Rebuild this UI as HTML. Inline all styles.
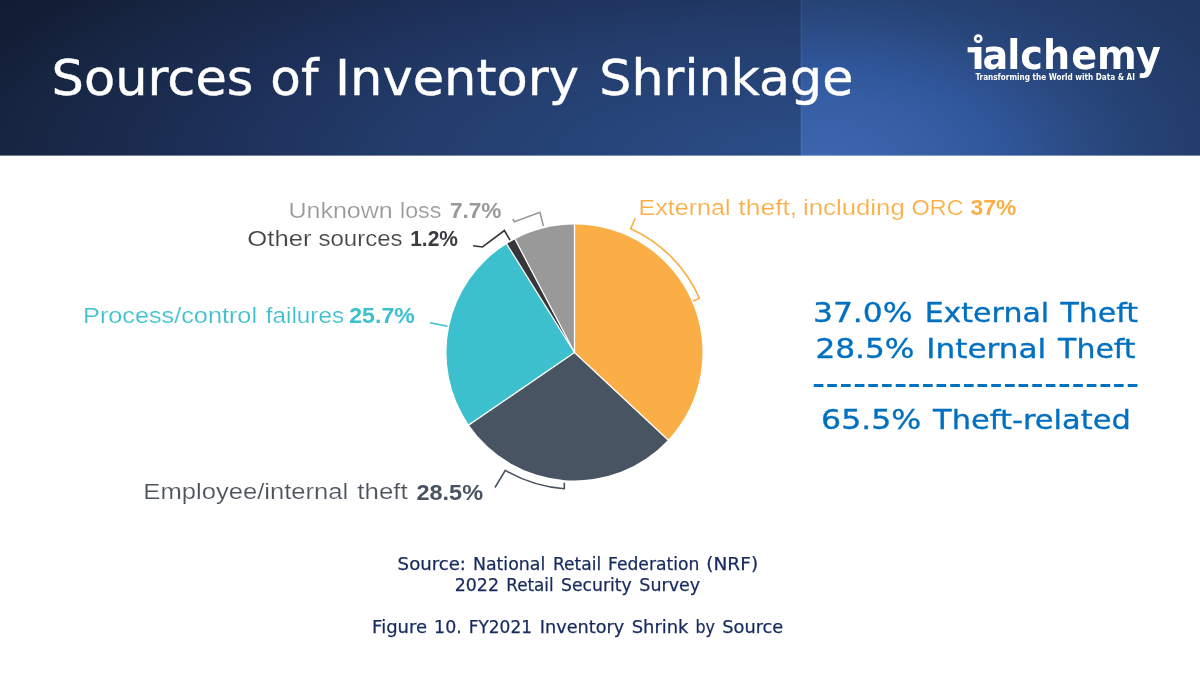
<!DOCTYPE html>
<html lang="en"><head><meta charset="utf-8"><title>Sources of Inventory Shrinkage</title>
<style>
html,body{margin:0;padding:0;background:#fff}
body{width:1200px;height:675px;overflow:hidden;position:relative}
svg{position:absolute;left:0;top:0;display:block}
.v{font-family:"DejaVu Sans","Liberation Sans",sans-serif}
.g{font-family:"Liberation Sans","DejaVu Sans",sans-serif}
</style></head><body>
<svg width="1200" height="675" viewBox="0 0 1200 675">
<defs>
<radialGradient id="hl" gradientUnits="userSpaceOnUse" cx="820" cy="160" r="1000" gradientTransform="translate(820 160) scale(1 0.32) translate(-820 -160)">
<stop offset="0" stop-color="#2B4F8A"/><stop offset="0.218" stop-color="#27457A"/><stop offset="0.411" stop-color="#233D6C"/><stop offset="0.619" stop-color="#1D2F57"/><stop offset="0.811" stop-color="#172541"/><stop offset="0.9" stop-color="#131E36"/><stop offset="1" stop-color="#111a30"/>
</radialGradient>
<radialGradient id="hr" gradientUnits="userSpaceOnUse" cx="815" cy="160" r="500" gradientTransform="translate(815 160) scale(1 0.5) translate(-815 -160)">
<stop offset="0" stop-color="#3D66B0"/><stop offset="0.1" stop-color="#3B63AC"/><stop offset="0.25" stop-color="#365EA4"/><stop offset="0.38" stop-color="#30569A"/><stop offset="0.58" stop-color="#29477C"/><stop offset="0.68" stop-color="#254173"/><stop offset="0.9" stop-color="#213964"/><stop offset="1" stop-color="#203762"/>
</radialGradient>
<clipPath id="lc"><path d="M1032.3,45.5 H1056.9 V20 H1268.8 V95 H1032.3 Z"/></clipPath>
</defs>
<!-- header -->
<rect x="0" y="0" width="801" height="155.6" fill="url(#hl)"/>
<rect x="800.7" y="0" width="399.3" height="155.6" fill="url(#hr)"/>
<rect x="800.7" y="0" width="1.6" height="155.6" fill="#fff" opacity="0.06"/>
<text class="v" y="95" font-size="50" fill="#fff" stroke="#fff" stroke-width="0.4"><tspan x="51.52" textLength="201.91" lengthAdjust="spacingAndGlyphs">Sources</tspan> <tspan x="270.36" textLength="48.09" lengthAdjust="spacingAndGlyphs">of</tspan> <tspan x="335.01" textLength="243.89" lengthAdjust="spacingAndGlyphs">Inventory</tspan> <tspan x="599.33" textLength="254.05" lengthAdjust="spacingAndGlyphs">Shrinkage</tspan></text>

<!-- logo -->
<g fill="#fff">
<circle cx="978.2" cy="38.7" r="3.1" fill="none" stroke="#fff" stroke-width="2.6"/>
<rect x="967.6" y="47.2" width="8" height="5.2"/>
<text class="v" clip-path="url(#lc)" transform="scale(0.93,1)" x="1044.74 1056.58 1082.95 1097.18 1121.45 1151.82 1179.57 1221.58" y="69.2" font-size="41.0" font-weight="bold">ialchemy</text>
<text class="v" x="975.39" y="80" font-size="8.2" font-weight="bold" textLength="159.62" lengthAdjust="spacingAndGlyphs">Transforming the World with Data &amp; AI</text>
</g>

<!-- pie chart -->
<path d="M574.5,352.5 L574.50,224.50 A128.0,128.0 0 0 1 668.01,439.91 Z" fill="#FBAE45"/>
<path d="M574.5,352.5 L668.01,439.91 A128.0,128.0 0 0 1 468.93,424.88 Z" fill="#485461"/>
<path d="M574.5,352.5 L468.93,424.88 A128.0,128.0 0 0 1 506.66,243.96 Z" fill="#3DC0CE"/>
<path d="M574.5,352.5 L506.66,243.96 A128.0,128.0 0 0 1 515.02,239.16 Z" fill="#35353A"/>
<path d="M574.5,352.5 L515.02,239.16 A128.0,128.0 0 0 1 574.50,224.50 Z" fill="#999999"/>
<g stroke="#fff" stroke-width="1.3"><line x1="574.5" y1="352.5" x2="574.50" y2="224.00"/><line x1="574.5" y1="352.5" x2="668.38" y2="440.25"/><line x1="574.5" y1="352.5" x2="468.52" y2="425.16"/><line x1="574.5" y1="352.5" x2="506.39" y2="243.54"/><line x1="574.5" y1="352.5" x2="514.78" y2="238.72"/></g>
<g fill="none" stroke-width="1.6">
<path d="M635.3,218.3 L630.7,228.7 A136.04,136.04 0 0 1 699.40,298.40 L692.9,301.0" stroke="#FBAE45"/>
<path d="M495.0,487.5 L505.3,470.4 A136.64,136.64 0 0 0 564.30,488.70 L564.3,482.7" stroke="#485461"/>
<path d="M430,322.7 L447.5,326.3" stroke="#3DC0CE"/>
<path d="M512.8,218.9 L514.4,221.8 L540,212.3 L543.3,226" stroke="#999999"/>
<path d="M473.1,245.8 L482.5,247 L504.4,230.5 L510,240.1" stroke="#35353A"/>
</g>

<!-- chart labels -->
<g class="g">
<text y="218" fill="#999999" font-size="22.4"><tspan x="288.42" textLength="104.28" lengthAdjust="spacingAndGlyphs" stroke="#fff" stroke-width="0.2">Unknown</tspan> <tspan x="400.07" textLength="41.26" lengthAdjust="spacingAndGlyphs" stroke="#fff" stroke-width="0.2">loss</tspan> <tspan x="449.92" textLength="51.59" lengthAdjust="spacingAndGlyphs" y="218" fill="#999999" font-weight="bold" font-size="21.8">7.7%</tspan></text>
<text y="246" fill="#444448" font-size="22.4"><tspan x="247.32" textLength="64.13" lengthAdjust="spacingAndGlyphs" stroke="#fff" stroke-width="0.2">Other</tspan> <tspan x="318.44" textLength="84.07" lengthAdjust="spacingAndGlyphs" stroke="#fff" stroke-width="0.2">sources</tspan> <tspan x="410.17" textLength="47.75" lengthAdjust="spacingAndGlyphs" y="246" fill="#3b3b40" font-weight="bold" font-size="21.8">1.2%</tspan></text>
<text y="323" fill="#3DC0CE" font-size="22.4"><tspan x="83.06" textLength="173.96" lengthAdjust="spacingAndGlyphs" stroke="#fff" stroke-width="0.2">Process/control</tspan> <tspan x="265.8" textLength="78.25" lengthAdjust="spacingAndGlyphs" stroke="#fff" stroke-width="0.2">failures</tspan> <tspan x="349.27" textLength="65.55" lengthAdjust="spacingAndGlyphs" y="323" fill="#3DC0CE" font-weight="bold" font-size="21.8">25.7%</tspan></text>
<text y="499" fill="#4d535d" font-size="22.4"><tspan x="143.36" textLength="204.9" lengthAdjust="spacingAndGlyphs" stroke="#fff" stroke-width="0.2">Employee/internal</tspan> <tspan x="357.36" textLength="50.39" lengthAdjust="spacingAndGlyphs" stroke="#fff" stroke-width="0.2">theft</tspan> <tspan x="416.43" textLength="66.61" lengthAdjust="spacingAndGlyphs" y="500" fill="#485461" font-weight="bold" font-size="21.8">28.5%</tspan></text>
<text y="215" fill="#FBAE45" font-size="22.4"><tspan x="638.4" textLength="92.11" lengthAdjust="spacingAndGlyphs" stroke="#fff" stroke-width="0.2">External</tspan> <tspan x="738.33" textLength="58.91" lengthAdjust="spacingAndGlyphs" stroke="#fff" stroke-width="0.2">theft,</tspan> <tspan x="803.03" textLength="101.77" lengthAdjust="spacingAndGlyphs" stroke="#fff" stroke-width="0.2">including</tspan> <tspan x="911.62" textLength="51.97" lengthAdjust="spacingAndGlyphs" stroke="#fff" stroke-width="0.2">ORC</tspan> <tspan x="970.59" textLength="45.72" lengthAdjust="spacingAndGlyphs" y="215" fill="#FBAE45" font-weight="bold" font-size="21.8">37%</tspan></text>
</g>

<!-- right summary -->
<g class="v" font-size="27.4" fill="#0070C0" stroke="#0070C0" stroke-width="0.35">
<text y="322"><tspan x="813.01" textLength="99.47" lengthAdjust="spacingAndGlyphs">37.0%</tspan> <tspan x="924.66" textLength="124.47" lengthAdjust="spacingAndGlyphs">External</tspan> <tspan x="1060.6" textLength="77.37" lengthAdjust="spacingAndGlyphs">Theft</tspan></text>
<text y="358"><tspan x="815.41" textLength="98.96" lengthAdjust="spacingAndGlyphs">28.5%</tspan> <tspan x="926.3" textLength="119.9" lengthAdjust="spacingAndGlyphs">Internal</tspan> <tspan x="1058.1" textLength="77.5" lengthAdjust="spacingAndGlyphs">Theft</tspan></text>
<text x="811.96" y="395.6" textLength="327.23" lengthAdjust="spacing" font-size="36.5" stroke="none">------------------------</text>
<text y="429"><tspan x="821.14" textLength="100.06" lengthAdjust="spacingAndGlyphs">65.5%</tspan> <tspan x="933.11" textLength="197.63" lengthAdjust="spacingAndGlyphs">Theft-related</tspan></text>
</g>

<!-- source -->
<g class="v" font-size="17.8" fill="#172a5e" stroke="#172a5e" stroke-width="0.25">
<text y="570"><tspan x="397.63" textLength="68.34" lengthAdjust="spacingAndGlyphs">Source:</tspan> <tspan x="472.93" textLength="72.4" lengthAdjust="spacingAndGlyphs">National</tspan> <tspan x="553.03" textLength="48.17" lengthAdjust="spacingAndGlyphs">Retail</tspan> <tspan x="607.98" textLength="91.42" lengthAdjust="spacingAndGlyphs">Federation</tspan> <tspan x="706.25" textLength="51.91" lengthAdjust="spacingAndGlyphs">(NRF)</tspan></text>
<text y="591"><tspan x="454.66" textLength="44.33" lengthAdjust="spacingAndGlyphs">2022</tspan> <tspan x="506.24" textLength="47.4" lengthAdjust="spacingAndGlyphs">Retail</tspan> <tspan x="560.95" textLength="70.86" lengthAdjust="spacingAndGlyphs">Security</tspan> <tspan x="639.35" textLength="60.82" lengthAdjust="spacingAndGlyphs">Survey</tspan></text>
<text y="633"><tspan x="372.1" textLength="55.0" lengthAdjust="spacingAndGlyphs">Figure</tspan> <tspan x="434.12" textLength="27.67" lengthAdjust="spacingAndGlyphs">10.</tspan> <tspan x="468.69" textLength="63.32" lengthAdjust="spacingAndGlyphs">FY2021</tspan> <tspan x="539.83" textLength="84.5" lengthAdjust="spacingAndGlyphs">Inventory</tspan> <tspan x="631.65" textLength="56.86" lengthAdjust="spacingAndGlyphs">Shrink</tspan> <tspan x="695.45" textLength="19.52" lengthAdjust="spacingAndGlyphs">by</tspan> <tspan x="722.27" textLength="61.0" lengthAdjust="spacingAndGlyphs">Source</tspan></text>
</g>
</svg>
</body></html>
